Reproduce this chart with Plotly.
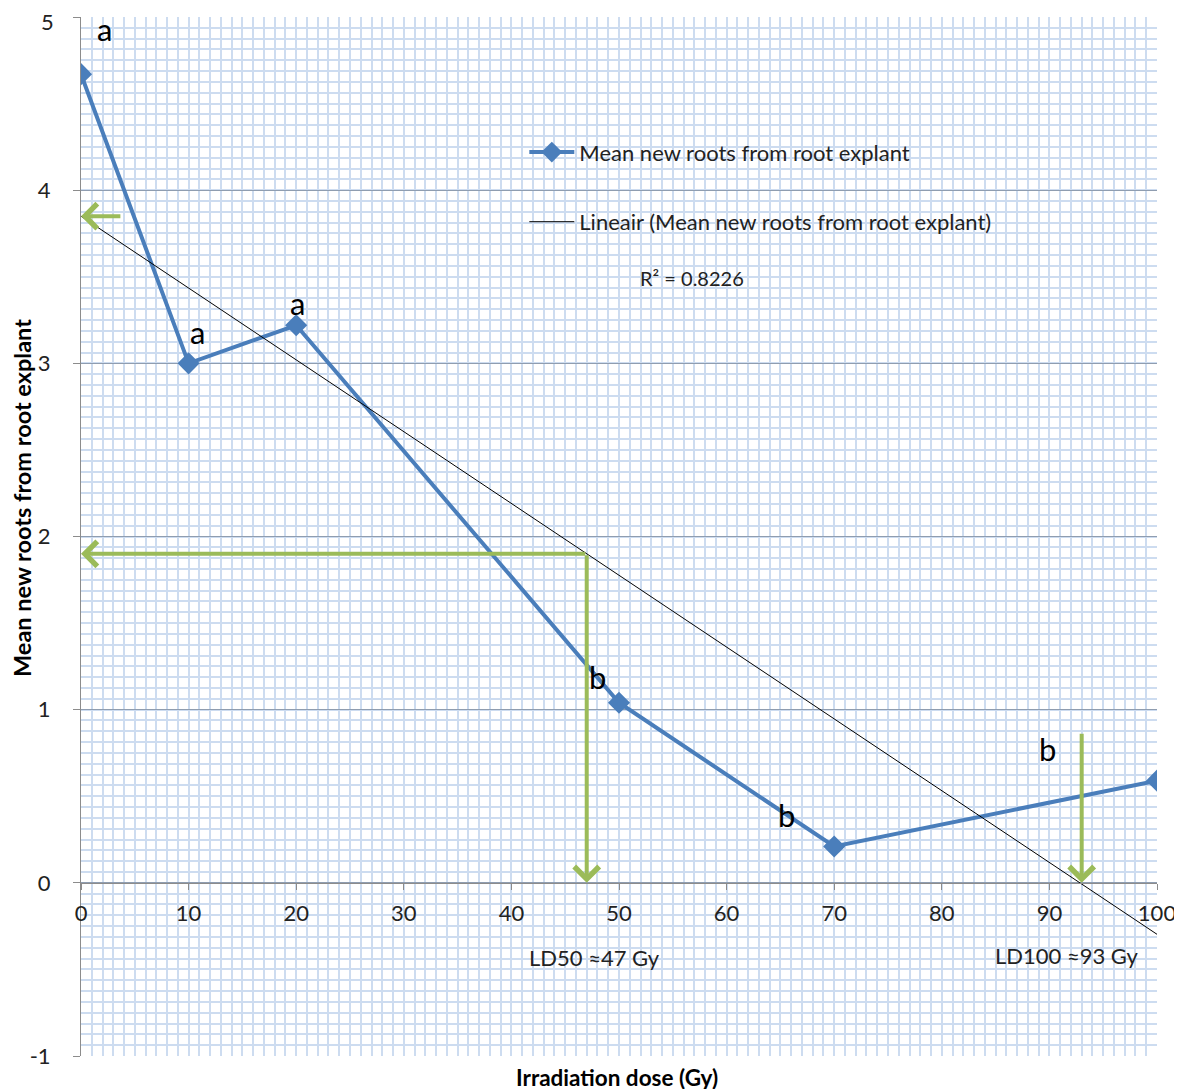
import numpy as np
import plotly.graph_objects as go

# ---- data ----
dose = [0, 10, 20, 50, 70, 100]
mean_roots = [4.67, 3.00, 3.22, 1.04, 0.21, 0.59]
series_name = "Mean new roots from root explant"
trend_name = "Lineair (Mean new roots from root explant)"
r2_text = "R² = 0.8226"

letter_x = [2.2, 10.8, 20.1, 48.0, 65.6, 89.8]
letter_y = [4.93, 3.18, 3.35, 1.19, 0.39, 0.77]
letter_txt = ["a", "a", "a", "b", "b", "b"]

# arrows: (tail x, tail y, head x, head y)
arrow_tail_x = [3.8, 47.0, 47.0, 93.0]
arrow_tail_y = [3.85, 1.90, 1.90, 0.87]
arrow_head_x = [0.0, 0.0, 47.0, 93.0]
arrow_head_y = [3.85, 1.90, 0.0, 0.0]

ld_labels = ["LD50 ≈47 Gy", "LD100 ≈93 Gy"]
ld_x = [47.7, 91.6]
ld_y = [-0.43, -0.42]

x_ticks = [0, 10, 20, 30, 40, 50, 60, 70, 80, 90, 100]
y_ticks = [-1, 0, 1, 2, 3, 4, 5]
y_tick_labels = ["-1", "0", "1", "2", "3", "4", "5"]

# linear trend from data
slope, intercept = np.polyfit(dose, mean_roots, 1)
trend_x = [0, 100]
trend_y = [intercept + slope * v for v in trend_x]

FONT = "Lato"
blue = "#4a7ebb"
green = "#9bbb59"

# page has an 8px body margin; compensate so the plot area lands at
# screen px x 81..1157, y 17..1056
OFF = 8
W, H = 1182, 1089
PL, PR, PT, PB = 81, 1157, 17, 1056   # target plot area on screen
L, T = PL - OFF, PT - OFF
R = W - (PR - OFF)
B = H - (PB - OFF)
pw, ph = PR - PL, PB - PT


def px_x(px):
    return (px - PL) / pw


def px_y(py):
    return (PB - py) / ph


fig = go.Figure()
fig.add_trace(go.Scatter(
    x=dose, y=mean_roots, mode="lines+markers", name=series_name,
    line=dict(color=blue, width=4),
    marker=dict(symbol="diamond", size=17, color=blue),
    legendgroup="g1",
))
fig.add_trace(go.Scatter(
    x=trend_x, y=trend_y, mode="lines", name=trend_name,
    line=dict(color="black", width=1),
    legendgroup="g2",
))

annotations = []
for x, y, t in zip(letter_x, letter_y, letter_txt):
    annotations.append(dict(x=x, y=y, xref="x", yref="y", text=t, showarrow=False,
                            font=dict(family=FONT, size=31, color="black")))
for tx, ty, hx, hy in zip(arrow_tail_x, arrow_tail_y, arrow_head_x, arrow_head_y):
    annotations.append(dict(x=hx, y=hy, ax=tx, ay=ty, xref="x", yref="y",
                            axref="x", ayref="y", text="", showarrow=True,
                            arrowhead=4, arrowsize=1.2, arrowwidth=4, arrowcolor=green))
for x, y, t in zip(ld_x, ld_y, ld_labels):
    annotations.append(dict(x=x, y=y, xref="x", yref="y", text=t, showarrow=False,
                            font=dict(family=FONT, size=22, color="#222")))
annotations.append(dict(x=56.8, y=3.49, xref="x", yref="y", text=r2_text, showarrow=False,
                        font=dict(family=FONT, size=20, color="#222")))
# top y tick label drawn as annotation, nudged so it is not clipped by the page edge
annotations.append(dict(x=0, y=y_ticks[-1], xref="paper", yref="y", xanchor="right",
                        yanchor="middle", xshift=-25, yshift=-4, text=y_tick_labels[-1],
                        showarrow=False, font=dict(family=FONT, size=22, color="#222")))
# axis titles
annotations.append(dict(x=px_x(617), y=px_y(1077), xref="paper", yref="paper",
                        xanchor="center", yanchor="middle",
                        text="<b>Irradiation dose (Gy)</b>", showarrow=False,
                        font=dict(family=FONT, size=22.5, color="black")))
annotations.append(dict(x=px_x(22), y=px_y(498), xref="paper", yref="paper",
                        xanchor="center", yanchor="middle",
                        text="<b>Mean new roots from root explant</b>", showarrow=False,
                        textangle=-90, font=dict(family=FONT, size=23.5, color="black")))

grid_light = "#cddcf0"

fig.update_layout(
    width=W, height=H,
    margin=dict(l=L, r=R, t=T, b=B, autoexpand=False),
    paper_bgcolor="white",
    plot_bgcolor="white",
    font=dict(family=FONT, color="#222"),
    showlegend=True,
    legend=dict(x=0.412, y=0.89, xanchor="left", yanchor="top", itemwidth=45,
                bgcolor="rgba(0,0,0,0)", font=dict(family=FONT, size=22, color="#222"),
                traceorder="grouped", tracegroupgap=38),
    annotations=annotations,
    xaxis=dict(
        range=[0, 100], tickvals=x_ticks, anchor="free", position=1/6,
        showline=True, linecolor="#8c8c8c", linewidth=1,
        ticks="outside", ticklen=6, tickcolor="#8c8c8c",
        tickfont=dict(family=FONT, size=22, color="#222"), ticklabelstandoff=5,
        ticklabeloverflow="allow",
        showgrid=True, gridcolor=grid_light, gridwidth=1.5,
        minor=dict(dtick=1, showgrid=True, gridcolor=grid_light, gridwidth=1.5),
        zeroline=False, fixedrange=True,
    ),
    yaxis=dict(
        range=[-1, 5], tickvals=y_ticks,
        ticktext=y_tick_labels[:-1] + [""],
        showline=True, linecolor="#8c8c8c", linewidth=1,
        ticks="outside", ticklen=7, tickcolor="#8c8c8c",
        tickfont=dict(family=FONT, size=22, color="#222"), ticklabelstandoff=18,
        ticklabeloverflow="allow",
        showgrid=True, gridcolor="#8f9db0", gridwidth=1,
        minor=dict(dtick=0.0625, showgrid=True, gridcolor=grid_light, gridwidth=1.5),
        zeroline=False, fixedrange=True,
    ),
)

fig.write_html("out.html")
